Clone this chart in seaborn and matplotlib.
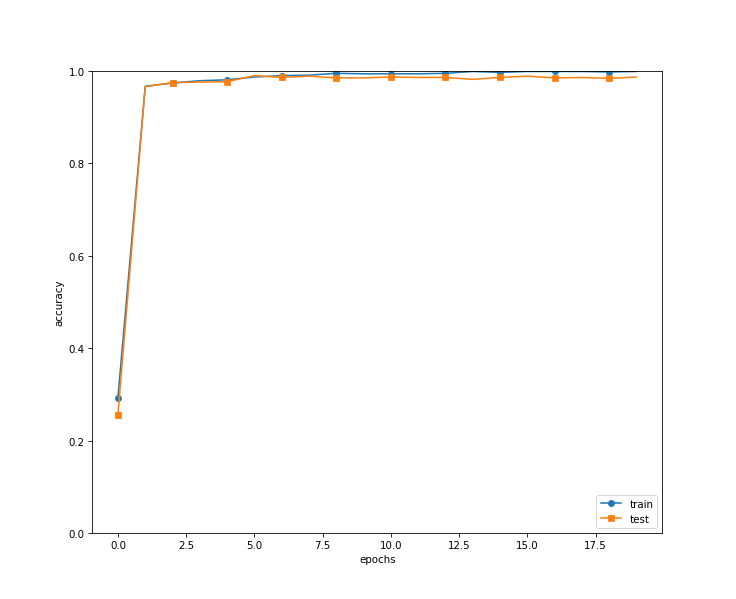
import numpy as np
import matplotlib
matplotlib.use("Agg")
import matplotlib.pyplot as plt
import seaborn as sns

# ---------------------- DATA ----------------------
epochs = np.arange(20)
train_acc = [0.293, 0.967, 0.974, 0.979, 0.981, 0.987, 0.990, 0.991, 0.995, 0.994,
             0.994, 0.994, 0.995, 0.999, 0.997, 0.999, 0.999, 0.999, 0.998, 0.999]
test_acc = [0.256, 0.966, 0.975, 0.976, 0.977, 0.990, 0.986, 0.989, 0.985, 0.985,
            0.987, 0.986, 0.986, 0.982, 0.986, 0.989, 0.985, 0.986, 0.984, 0.987]

# ---------------------- PLOT ----------------------
fig, ax = plt.subplots(figsize=(10, 8.152), dpi=73.6)

sns.lineplot(x=epochs, y=train_acc, ax=ax, marker="o", markevery=2,
             markeredgecolor="#1f77b4", label="train", color="#1f77b4")
sns.lineplot(x=epochs, y=test_acc, ax=ax, marker="s", markevery=2,
             markeredgecolor="#ff7f0e", label="test", color="#ff7f0e")

ax.set_xlabel("epochs")
ax.set_ylabel("accuracy")
ax.set_ylim(0, 1.0)
ax.legend(loc="lower right")

plt.savefig("out.png", dpi=73.6)
